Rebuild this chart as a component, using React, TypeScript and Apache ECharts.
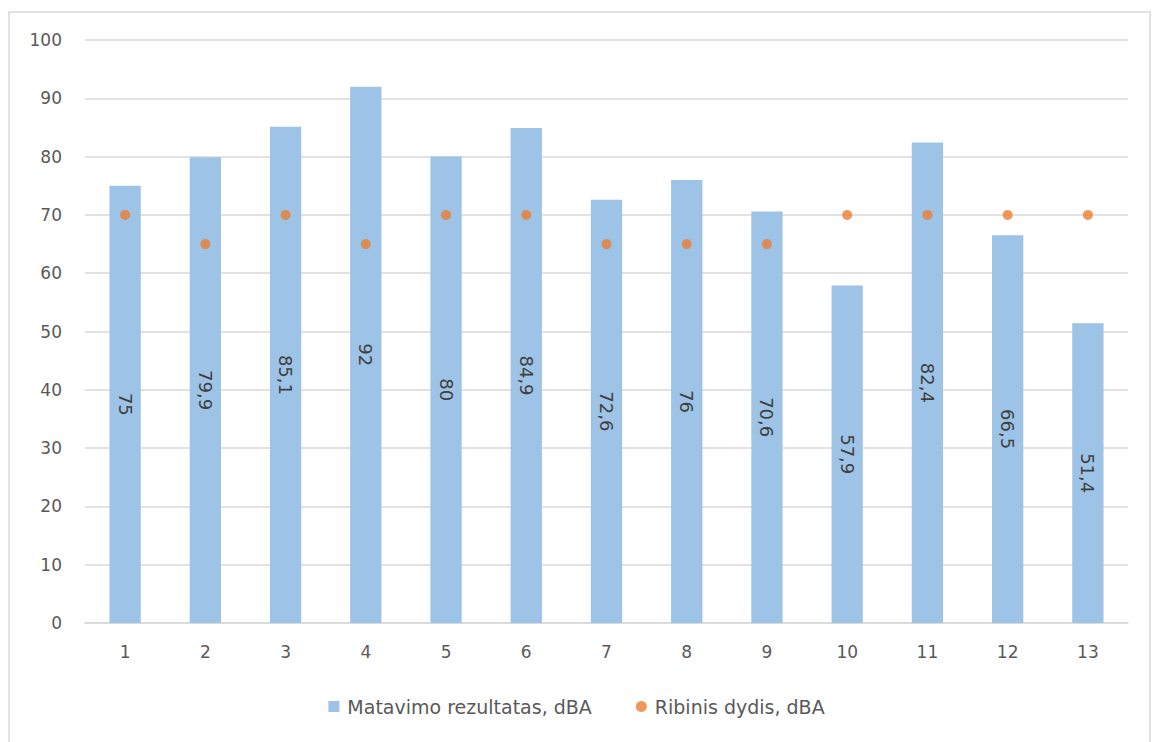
import React, { useEffect, useRef } from "react";
import * as echarts from "echarts";

const categories = ["1", "2", "3", "4", "5", "6", "7", "8", "9", "10", "11", "12", "13"];
const measured = [75, 79.9, 85.1, 92, 80, 84.9, 72.6, 76, 70.6, 57.9, 82.4, 66.5, 51.4];
const limits = [70, 65, 70, 65, 70, 70, 65, 65, 65, 70, 70, 70, 70];
const yTicks = { min: 0, max: 100, interval: 10 };

const FONT = "DejaVu Sans";

export default function App() {
  const ref = useRef<HTMLDivElement>(null);

  useEffect(() => {
    if (!ref.current) return;
    const chart = echarts.init(ref.current, null, { renderer: "svg" });
    chart.setOption({
      animation: false,
      backgroundColor: "#ffffff",
      textStyle: { fontFamily: FONT },
      graphic: [
        {
          type: "rect",
          shape: { x: 9, y: 12, width: 1141, height: 740 },
          style: { fill: "none", stroke: "#d9d9d9", lineWidth: 1.5 },
          silent: true,
        },
      ],
      grid: { left: 85, right: 25, top: 40, bottom: 119 },
      legend: {
        bottom: 21,
        left: "center",
        itemGap: 44,
        itemWidth: 11,
        itemHeight: 11,
        textStyle: { color: "#595959", fontSize: 19, fontFamily: FONT, padding: [0, 0, 0, 3] },
        data: [
          { name: "Matavimo rezultatas, dBA", icon: "rect" },
          { name: "Ribinis dydis, dBA", icon: "circle" },
        ],
      },
      xAxis: {
        type: "category",
        data: categories,
        axisLine: { lineStyle: { color: "#d9d9d9", width: 1.5 } },
        axisTick: { show: false },
        axisLabel: { color: "#595959", fontSize: 17, margin: 20, fontFamily: FONT },
      },
      yAxis: {
        type: "value",
        min: yTicks.min,
        max: yTicks.max,
        interval: yTicks.interval,
        axisLine: { show: false },
        axisTick: { show: false },
        splitLine: { lineStyle: { color: "#d9d9d9", width: 1.5 } },
        axisLabel: { color: "#595959", fontSize: 17, margin: 23, fontFamily: FONT },
      },
      series: [
        {
          name: "Matavimo rezultatas, dBA",
          type: "bar",
          data: measured,
          barWidth: "39%",
          itemStyle: { color: "#9dc3e6" },
          label: {
            show: true,
            position: "inside",
            rotate: -90,
            color: "#404040",
            fontSize: 18,
            fontFamily: FONT,
            formatter: (p: any) => String(p.value).replace(".", ","),
          },
        },
        {
          name: "Ribinis dydis, dBA",
          type: "scatter",
          data: limits,
          symbol: "circle",
          symbolSize: 10,
          itemStyle: { color: "#ed7d31" },
          z: 5,
        },
      ],
    });
    return () => chart.dispose();
  }, []);

  return (
    <div
      ref={ref}
      style={{ position: "absolute", left: 0, top: 0, width: 1153, height: 742 }}
    />
  );
}
